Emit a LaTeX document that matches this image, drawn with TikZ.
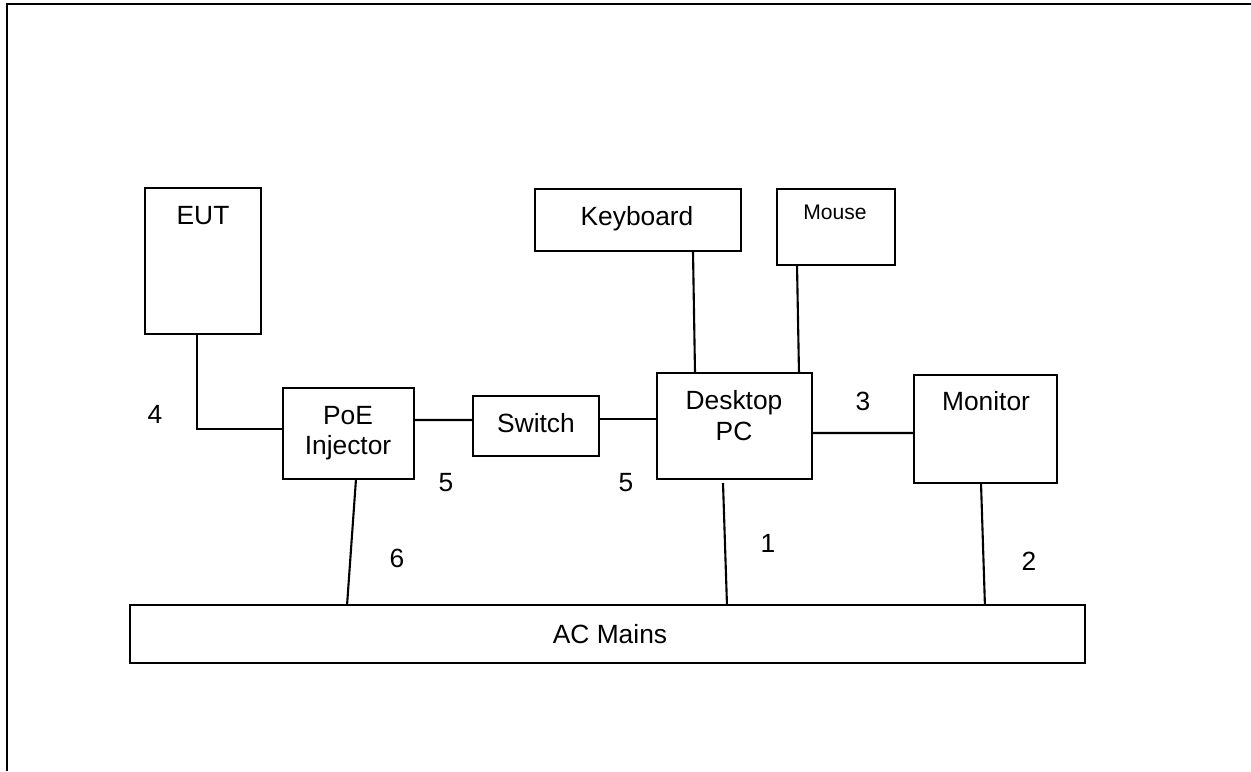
\documentclass[tikz,border=0pt]{standalone}
\usepackage{fontspec}
\setmainfont{Liberation Sans}
\begin{document}
\begin{tikzpicture}[x=0.02cm,y=-0.02cm,
  box/.style={draw,line width=1.2pt,inner sep=0pt,outer sep=0pt},
  txt/.style={anchor=base,inner sep=0pt,font=\fontsize{15}{18}\selectfont},
  small/.style={anchor=base,inner sep=0pt,font=\fontsize{12}{14}\selectfont},
  wire/.style={line width=1.2pt}]
\useasboundingbox (0,0) rectangle (1251,771);
% outer frame (top and left only)
\draw[line width=1.5pt] (7,771) -- (7,4) -- (1251,4);
% boxes
\node[box,minimum width=2.32cm,minimum height=2.92cm] (eut) at (203,261) {};
\node[box,minimum width=2.62cm,minimum height=1.82cm] (poe) at (348.5,433.5) {};
\node[box,minimum width=2.52cm,minimum height=1.20cm] (sw) at (536,426) {};
\node[box,minimum width=4.12cm,minimum height=1.24cm] (kb) at (638,220) {};
\node[box,minimum width=2.36cm,minimum height=1.52cm] (mouse) at (836,227) {};
\node[box,minimum width=3.10cm,minimum height=2.12cm] (pc) at (734.5,426) {};
\node[box,minimum width=2.86cm,minimum height=2.16cm] (mon) at (985.5,429) {};
\node[box,minimum width=19.10cm,minimum height=1.16cm] (ac) at (607.5,634) {};
% box texts
\node[txt] (teut) at (203,224) {EUT};
\node[txt] (tpoe1) at (348,424) {PoE};
\node[txt] (tpoe2) at (348,454) {Injector};
\node[txt] (tsw) at (536,432) {Switch};
\node[txt] (tkb) at (637,225) {Keyboard};
\node[small] (tmouse) at (835,219) {Mouse};
\node[txt] (tpc1) at (734,409) {Desktop};
\node[txt] (tpc2) at (734,440) {PC};
\node[txt] (tmon) at (986,410) {Monitor};
\node[txt] (tac) at (610,643) {AC Mains};
% connectors
\draw[wire] ([xshift=-0.12cm]eut.south) |- ([yshift=0.09cm]poe.west);
\draw[wire] ([yshift=0.27cm]poe.east) -- ([yshift=0.12cm]sw.west);
\draw[wire] ([yshift=0.14cm]sw.east) -- ([yshift=0.14cm]pc.west);
\draw[wire] ([xshift=1.10cm]kb.south) -- ([xshift=-0.79cm]pc.north);
\draw[wire] ([xshift=-0.78cm]mouse.south) -- ([xshift=1.29cm]pc.north);
\draw[wire] ([yshift=-0.14cm]pc.east) -- ([yshift=-0.08cm]mon.west);
\draw[wire] ([xshift=-0.23cm,yshift=-0.08cm]pc.south) -- ([xshift=2.39cm]ac.north);
\draw[wire] ([xshift=-0.09cm]mon.south) -- ([xshift=7.55cm]ac.north);
\draw[wire] ([xshift=0.15cm]poe.south) -- ([xshift=-5.21cm]ac.north);
% connector labels
\node[txt] (l4) at (155,423) {4};
\node[txt] (l5a) at (446,491) {5};
\node[txt] (l5b) at (626,491) {5};
\node[txt] (l6) at (397,567) {6};
\node[txt] (l3) at (863,410) {3};
\node[txt] (l1) at (768,552) {1};
\node[txt] (l2) at (1029,570) {2};
\end{tikzpicture}
\end{document}
